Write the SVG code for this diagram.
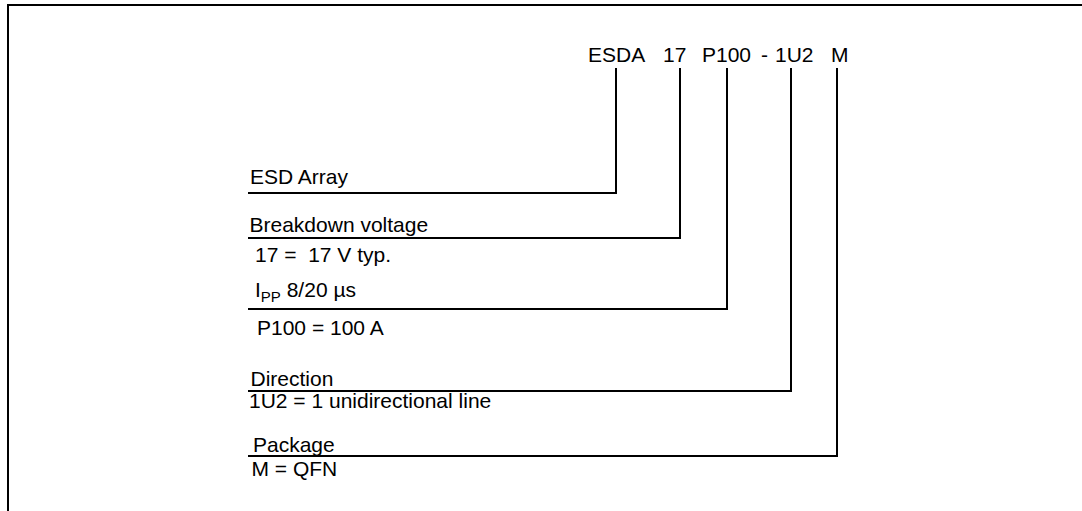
<svg xmlns="http://www.w3.org/2000/svg" width="1082" height="511" viewBox="0 0 1082 511">
<style>
text{font-family:"Liberation Sans",Arial,sans-serif;font-size:21px;fill:#000}
.ln{fill:none;stroke:#000;stroke-width:2}
.sub{font-size:15px}
</style>
<rect width="1082" height="511" fill="#fff"/>
<path class="ln" d="M8 511V5H1082"/>
<g id="code">
<text x="588" y="62">ESDA</text>
<text x="663" y="62">17</text>
<text x="702" y="62">P100</text>
<text x="761" y="62">-</text>
<text x="775" y="62">1U2</text>
<text x="831" y="62">M</text>
</g>
<g id="connectors">
<path class="ln" d="M616 68V193H248"/>
<path class="ln" d="M680 68V238H248"/>
<path class="ln" d="M727 68V309H248"/>
<path class="ln" d="M791 68V391H248"/>
<path class="ln" d="M837 68V456H248"/>
</g>
<g id="esd-array"><text x="250" y="184">ESD Array</text></g>
<g id="breakdown">
<text x="249.5" y="232">Breakdown voltage</text>
<text x="255" y="262" xml:space="preserve">17 =  17 V typ.</text>
</g>
<g id="ipp">
<text x="255" y="297">I<tspan class="sub" dy="5">PP</tspan><tspan dy="-5"> 8/20 µs</tspan></text>
<text x="257" y="335">P100 = 100 A</text>
</g>
<g id="direction">
<text x="250.5" y="386">Direction</text>
<text x="249" y="408">1U2 = 1 unidirectional line</text>
</g>
<g id="package">
<text x="253" y="452">Package</text>
<text x="251.5" y="476">M = QFN</text>
</g>
</svg>
